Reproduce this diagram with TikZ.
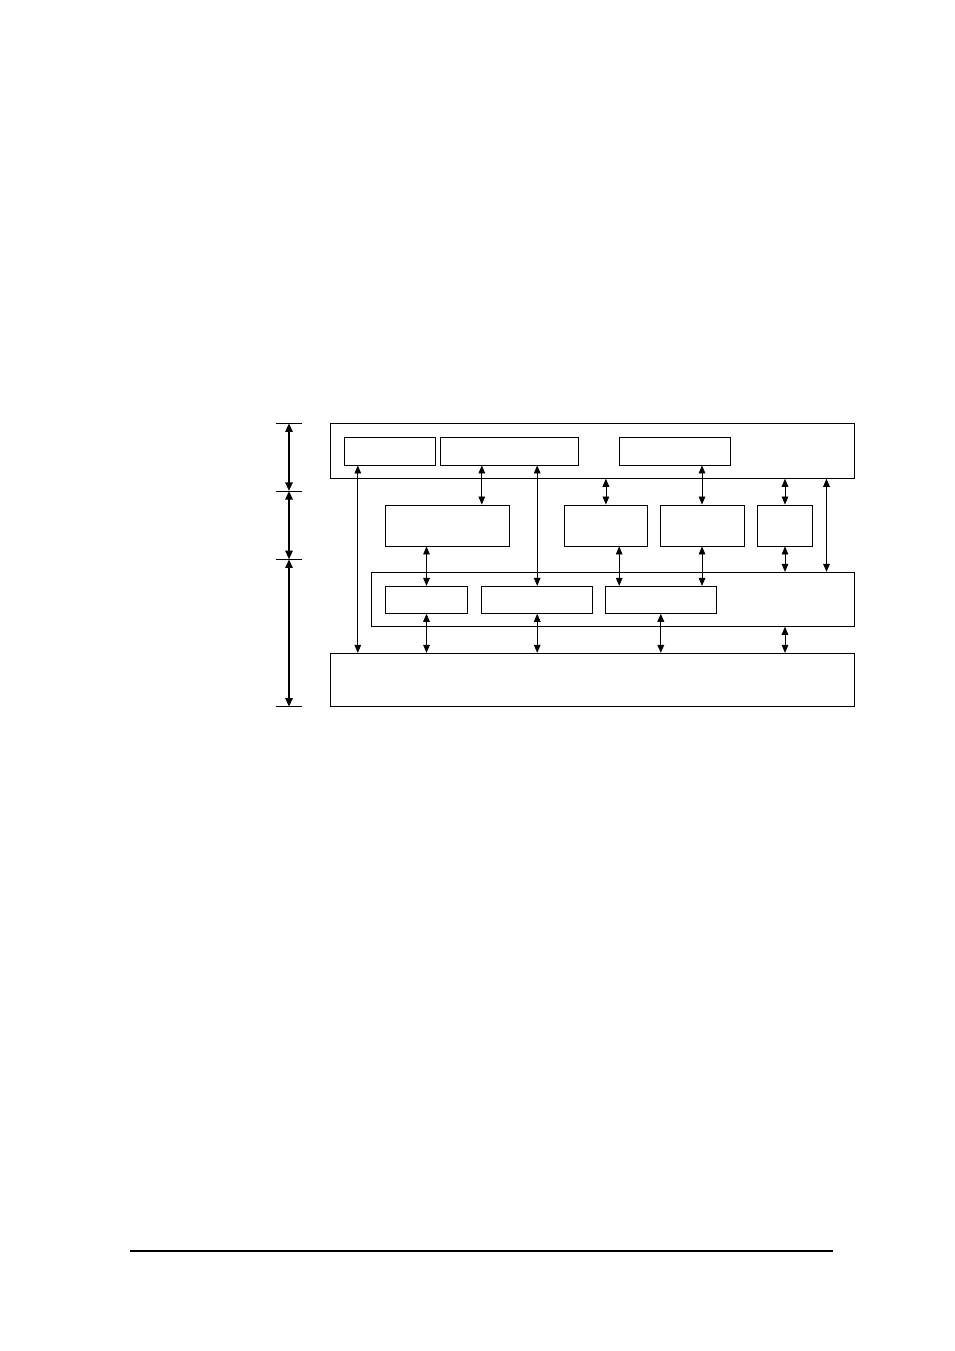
\documentclass[tikz,border=0pt]{standalone}
\usepackage{tikz}
\usetikzlibrary{arrows.meta,fit}
\begin{document}
\begin{tikzpicture}[x=0.75pt,y=-0.75pt,
  blk/.style={draw,line width=0.7pt,inner sep=0pt},
  dbl/.style={{Triangle[length=6pt,width=5pt]}-{Triangle[length=6pt,width=5pt]},line width=0.5pt},
  lvl/.style={{Triangle[length=6.5pt,width=5.5pt]}-{Triangle[length=6.5pt,width=5.5pt]},line width=1.4pt}]
\useasboundingbox (0,0) rectangle (954,1351);
% layers
\node[blk,fit={(330.3,423.3) (854,478.3)}] (app) {};
\node[blk,fit={(344,437.3) (435,465)}] (apa) {};
\node[blk,fit={(440,437.3) (578.8,465)}] (apb) {};
\node[blk,fit={(619.6,437.3) (730.3,465)}] (apc) {};
\node[blk,fit={(385.3,505) (509.7,546)}] (mida) {};
\node[blk,fit={(564.7,505) (647.5,546)}] (midb) {};
\node[blk,fit={(660.8,505) (744,546)}] (midc) {};
\node[blk,fit={(757.4,505) (812.7,546)}] (midd) {};
\node[blk,fit={(371.5,572.3) (854,626.3)}] (low) {};
\node[blk,fit={(385.3,586.3) (467.7,613.3)}] (lwa) {};
\node[blk,fit={(481.8,586.3) (592.5,613.3)}] (lwb) {};
\node[blk,fit={(605.5,586.3) (716.2,613.3)}] (lwc) {};
\node[blk,fit={(330.3,653.3) (854,706.7)}] (hw) {};
% links
\foreach \x/\a/\b in {357.8/apa/hw, 481.8/apb/mida, 537.2/apb/lwb, 605.9/app/midb,
  702/apc/midc, 785/app/midd, 826.5/app/low, 426.5/mida/lwa, 619.2/midb/lwc,
  702/midc/lwc, 785/midd/low, 426.5/lwa/hw, 537.2/lwb/hw, 785/low/hw}
  \draw[dbl] (\x,0 |- \a.south) -- (\x,0 |- \b.north);
\draw[dbl,line width=1pt] (660.8,0 |- lwc.south) -- (660.8,0 |- hw.north);
% level scale
\foreach \y [count=\i from 0] in {423.3,491,559.3,706.7} {
  \coordinate (t\i) at (289,\y);
  \draw[line width=0.6pt] (275.7,\y) -- (302.4,\y);
}
\foreach \a/\b in {t0/t1,t1/t2,t2/t3}
  \draw[lvl] (\a) -- (\b);
% footer rule
\draw[line width=1.6pt] (130,1251) -- (833,1251);
\end{tikzpicture}
\end{document}
